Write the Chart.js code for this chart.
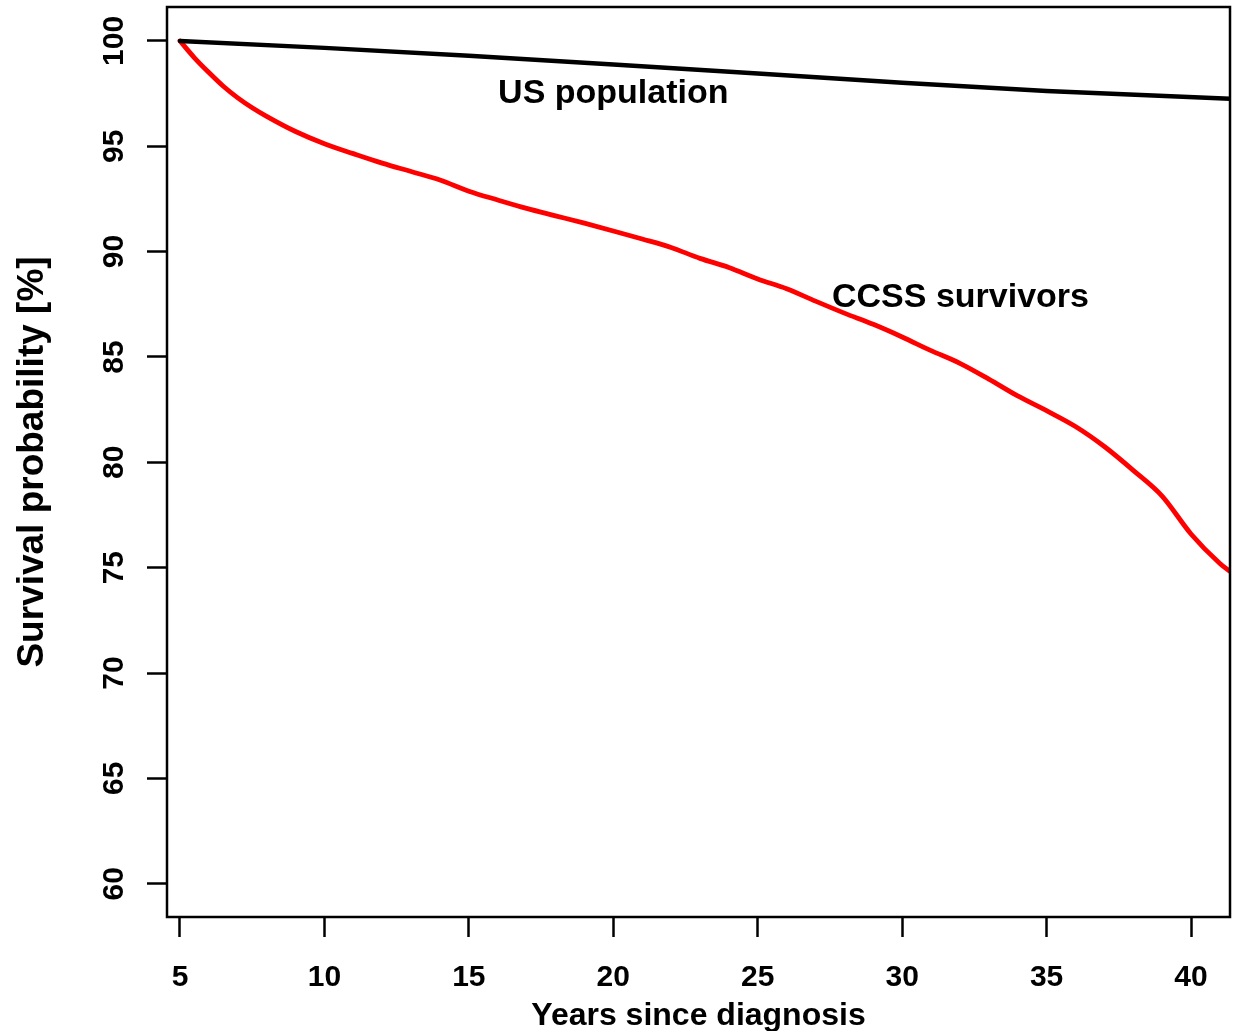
<!DOCTYPE html>
<html>
<head>
<meta charset="utf-8">
<script src="https://cdn.jsdelivr.net/npm/chart.js@4.4.1/dist/chart.umd.min.js"></script>
<style>
  html, body { margin: 0; padding: 0; background: #ffffff; }
  #wrap { width: 1236px; height: 1031px; }
</style>
</head>
<body>
<div id="wrap"><canvas id="c" width="1236" height="1031"></canvas></div>
<script>
// Survival curves, years since diagnosis vs. survival probability (%)
const ccssYears = [5, 5.5, 6, 6.5, 7, 7.5, 8, 9, 10, 11, 12, 13, 14, 15, 16, 17, 18, 19, 20,
  21, 22, 23, 24, 25, 26, 27, 28, 29, 30, 31, 32, 33, 34, 35, 36, 37, 38, 39, 40, 41, 41.35];
const ccssSurvival = [100, 99.2, 98.5, 97.85, 97.3, 96.83, 96.42, 95.7, 95.12, 94.65, 94.2, 93.8, 93.4, 92.87,
  92.45, 92.05, 91.7, 91.35, 90.98, 90.6, 90.2, 89.68, 89.25, 88.7, 88.24, 87.65, 87.08, 86.55, 85.95,
  85.3, 84.7, 83.95, 83.15, 82.45, 81.7, 80.75, 79.62, 78.4, 76.6, 75.2, 74.82];

const usYears = [5, 10, 15, 20, 25, 30, 35, 41.35];
const usSurvival = [100, 99.67, 99.3, 98.88, 98.45, 98.02, 97.62, 97.25];

const xTicks = [5, 10, 15, 20, 25, 30, 35, 40];
const yTicks = [60, 65, 70, 75, 80, 85, 90, 95, 100];
const xRange = [4.55, 41.35];
const yRange = [58.42, 101.61];

const FONT = '"Liberation Sans", Arial, Helvetica, sans-serif';

const toPoints = (xs, ys) => xs.map((x, i) => ({ x: x, y: ys[i] }));

// Frame, rotated y tick labels and in-plot curve labels
const framePlugin = {
  id: 'frame',
  afterDatasetsDraw(chart) {
    const { ctx, chartArea: a, scales } = chart;
    ctx.save();
    ctx.strokeStyle = '#000';
    ctx.lineWidth = 2.5;
    ctx.strokeRect(a.left, a.top, a.right - a.left, a.bottom - a.top);

    // y tick labels, reading upward
    ctx.fillStyle = '#000';
    ctx.font = 'bold 30px ' + FONT;
    ctx.textAlign = 'center';
    ctx.textBaseline = 'alphabetic';
    scales.y.ticks.forEach(t => {
      const py = scales.y.getPixelForValue(t.value);
      ctx.save();
      ctx.translate(123, py);
      ctx.rotate(-Math.PI / 2);
      ctx.fillText(String(t.value), 0, 0);
      ctx.restore();
    });

    // curve labels
    ctx.font = 'bold 34px ' + FONT;
    const notes = [
      { text: 'US population', x: 20, y: 97.05 },
      { text: 'CCSS survivors', x: 32.02, y: 87.38 }
    ];
    notes.forEach(n => {
      ctx.fillText(n.text, scales.x.getPixelForValue(n.x), scales.y.getPixelForValue(n.y));
    });
    ctx.restore();
  }
};

new Chart(document.getElementById('c').getContext('2d'), {
  type: 'line',
  data: {
    datasets: [
      {
        label: 'US population',
        data: toPoints(usYears, usSurvival),
        borderColor: '#000000',
        borderWidth: 4.5,
        pointRadius: 0,
        tension: 0,
        fill: false,
        borderJoinStyle: 'round',
        borderCapStyle: 'round'
      },
      {
        label: 'CCSS survivors',
        data: toPoints(ccssYears, ccssSurvival),
        borderColor: '#ff0000',
        borderWidth: 4.8,
        pointRadius: 0,
        tension: 0.2,
        cubicInterpolationMode: 'monotone',
        fill: false,
        borderJoinStyle: 'round',
        borderCapStyle: 'round'
      }
    ]
  },
  options: {
    responsive: false,
    animation: false,
    devicePixelRatio: 1,
    layout: { padding: { left: 0, right: 6, top: 7, bottom: 0 } },
    plugins: { legend: { display: false }, tooltip: { enabled: false } },
    scales: {
      x: {
        type: 'linear',
        min: xRange[0],
        max: xRange[1],
        afterBuildTicks: s => { s.ticks = xTicks.map(v => ({ value: v })); },
        afterFit: s => { s.height = 114; },
        border: { display: false },
        grid: { drawOnChartArea: false, drawTicks: true, tickLength: 20, tickWidth: 2.5, tickColor: '#000' },
        ticks: {
          color: '#000',
          font: { family: FONT, size: 30, weight: 'bold', lineHeight: 1 },
          padding: 26,
          maxRotation: 0,
          autoSkip: false
        },
        title: {
          display: true,
          text: 'Years since diagnosis',
          color: '#000',
          font: { family: FONT, size: 32, weight: 'bold', lineHeight: 1 },
          padding: { top: 0, bottom: -1 }
        }
      },
      y: {
        type: 'linear',
        min: yRange[0],
        max: yRange[1],
        afterBuildTicks: s => { s.ticks = yTicks.map(v => ({ value: v })); },
        afterFit: s => { s.width = 167; },
        border: { display: false },
        grid: { drawOnChartArea: false, drawTicks: true, tickLength: 20, tickWidth: 2.5, tickColor: '#000' },
        ticks: { display: false },
        title: {
          display: true,
          text: 'Survival probability [%]',
          color: '#000',
          font: { family: FONT, size: 37, weight: 'bold', lineHeight: 1 },
          padding: { top: 14.5, bottom: 0 }
        }
      }
    }
  },
  plugins: [framePlugin]
});
</script>
</body>
</html>
